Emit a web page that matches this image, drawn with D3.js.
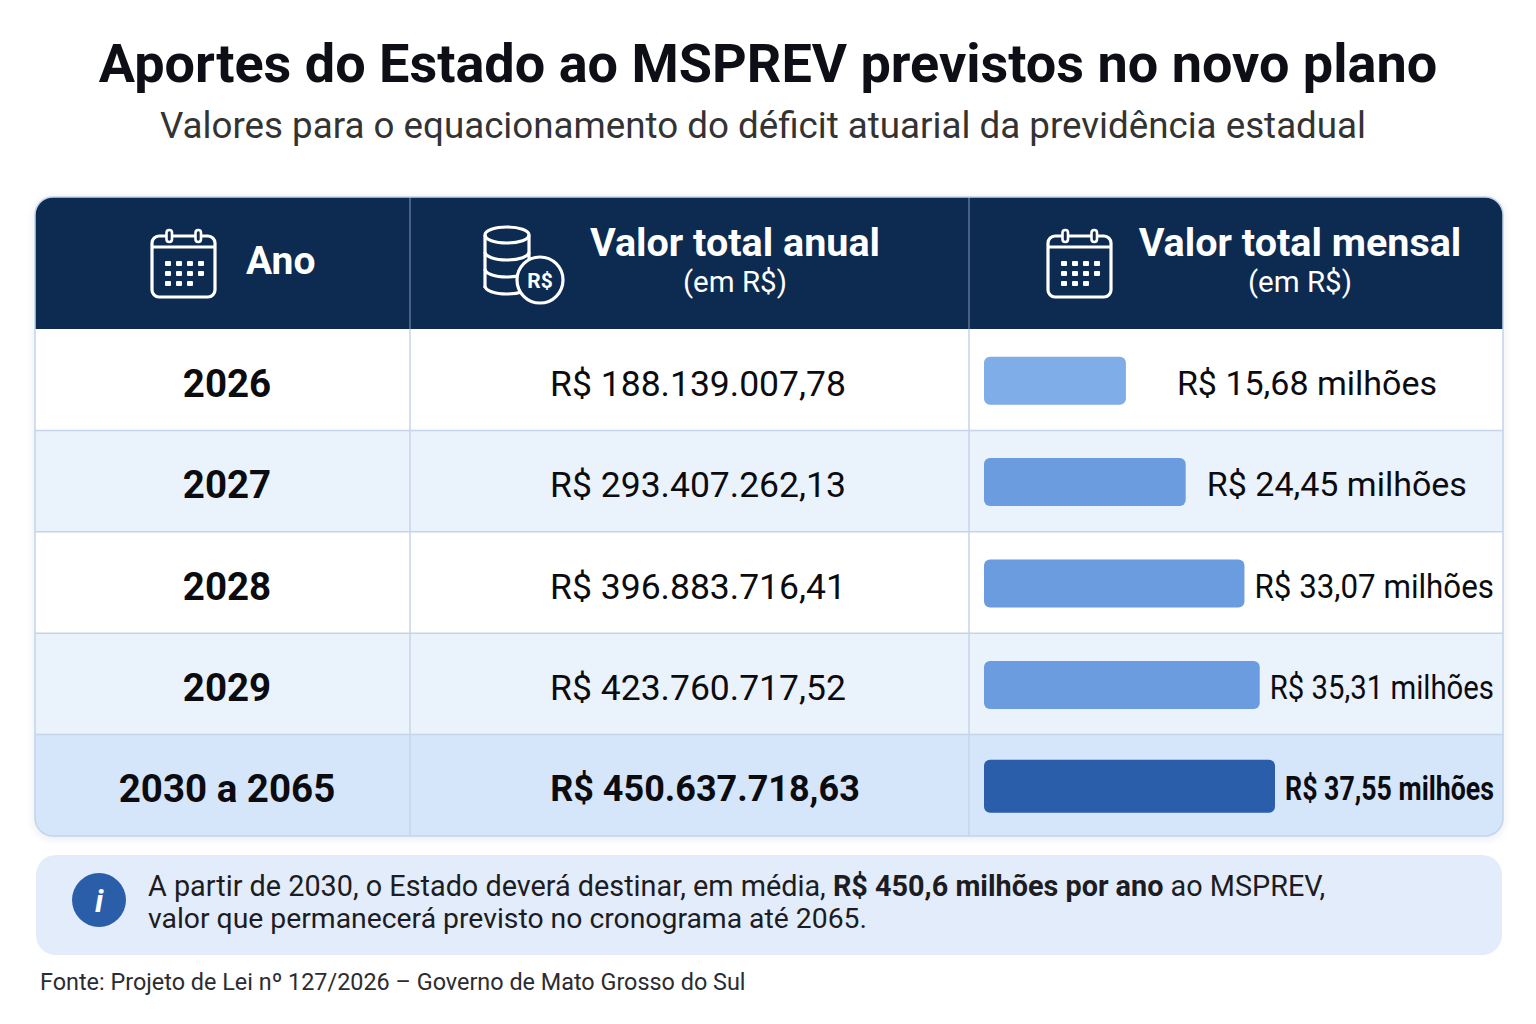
<!DOCTYPE html>
<html><head><meta charset="utf-8">
<script src="https://cdn.jsdelivr.net/npm/d3@7/dist/d3.min.js"></script>
<style>
body{margin:0;background:#fff}
svg{display:block}
text{font-family:Roboto,"Noto Sans",sans-serif}
</style>
</head><body>
<svg id="c" width="1536" height="1024"></svg>
<script>
// ---------- DATA ----------
const titulo = "Aportes do Estado ao MSPREV previstos no novo plano";
const subtitulo = "Valores para o equacionamento do déficit atuarial da previdência estadual";
const anos = ["2026", "2027", "2028", "2029", "2030 a 2065"];
const valorAnual = [188139007.78, 293407262.13, 396883716.41, 423760717.52, 450637718.63];
const valorMensalMilhoes = [15.68, 24.45, 33.07, 35.31, 37.55];
const cabecalhos = ["Ano", "Valor total anual", "Valor total mensal"];
const subCabecalho = "(em R$)";
const notaLinha1 = [["A partir de 2030, o Estado deverá destinar, em média, ", false], ["R$ 450,6 milhões por ano", true], [" ao MSPREV,", false]];
const notaLinha2 = "valor que permanecerá previsto no cronograma até 2065.";
const fonte = "Fonte: Projeto de Lei nº 127/2026 – Governo de Mato Grosso do Sul";

// ---------- LAYOUT / STYLE ----------
const NAVY = "#0d2a50";
const svg = d3.select("#c");
const loc = d3.formatLocale({decimal: ",", thousands: ".", grouping: [3], currency: ["R$ ", ""]});
const fmtAnual = loc.format("$,.2f");
const fmtMensal = v => loc.format("$,.2f")(v) + " milhões";

function fit(sel, target) {
  const n = sel.node();
  const w = n.getComputedTextLength();
  if (Math.abs(w - target) > 2) sel.attr("textLength", target).attr("lengthAdjust", "spacingAndGlyphs");
}

const defs = svg.append("defs");
const sh = defs.append("filter").attr("id", "sh").attr("x", "-5%").attr("y", "-5%").attr("width", "110%").attr("height", "115%");
sh.append("feDropShadow").attr("dx", 0).attr("dy", 2).attr("stdDeviation", 4).attr("flood-color", "#2a4a7a").attr("flood-opacity", 0.12);

// Title
const t = svg.append("text").attr("x", 768).attr("y", 82).attr("text-anchor", "middle")
  .attr("font-size", 54).attr("font-weight", 700).attr("fill", "#0e0f16").text(titulo);
fit(t, 1337);
const st = svg.append("text").attr("x", 763).attr("y", 138).attr("text-anchor", "middle")
  .attr("font-size", 36).attr("fill", "#333").text(subtitulo);
fit(st, 1206);

// Table
const T = {x0: 35, x1: 1503, top: 197, headB: 329, bottom: 836, r: 18};
const colX = [35, 410, 969, 1503];
const y = d3.scaleBand().domain(anos).range([T.headB, T.bottom]);
const barX0 = 984;
const xBar = d3.scaleLinear().domain([0, d3.max(valorMensalMilhoes)]).range([35, 291]);
const rows = anos.map((a, i) => ({ano: a, anual: valorAnual[i], mensal: valorMensalMilhoes[i], i}));

defs.append("clipPath").attr("id", "tc").append("rect")
  .attr("x", T.x0).attr("y", T.top).attr("width", T.x1 - T.x0).attr("height", T.bottom - T.top).attr("rx", T.r);

svg.append("rect").attr("x", T.x0).attr("y", T.top).attr("width", T.x1 - T.x0).attr("height", T.bottom - T.top)
  .attr("rx", T.r).attr("fill", "#fff").attr("filter", "url(#sh)");

const g = svg.append("g").attr("clip-path", "url(#tc)");
g.append("rect").attr("x", T.x0).attr("y", T.top).attr("width", T.x1 - T.x0).attr("height", T.headB - T.top).attr("fill", NAVY);

const rowFill = d => d.i === rows.length - 1 ? "#d5e5fa" : (d.i % 2 ? "#eaf2fc" : "#ffffff");
g.selectAll(".rowbg").data(rows).join("rect")
  .attr("x", T.x0).attr("y", d => y(d.ano)).attr("width", T.x1 - T.x0).attr("height", y.bandwidth())
  .attr("fill", rowFill);

g.selectAll(".hl").data(rows.slice(1)).join("line")
  .attr("x1", T.x0).attr("x2", T.x1).attr("y1", d => y(d.ano)).attr("y2", d => y(d.ano))
  .attr("stroke", "#c6d4e8").attr("stroke-width", 1.5);
[colX[1], colX[2]].forEach(x => {
  g.append("line").attr("x1", x).attr("x2", x).attr("y1", T.top).attr("y2", T.headB).attr("stroke", "#6f86a6").attr("stroke-width", 1.2);
  g.append("line").attr("x1", x).attr("x2", x).attr("y1", T.headB).attr("y2", T.bottom).attr("stroke", "#c6d4e8").attr("stroke-width", 1.5);
});
svg.append("rect").attr("x", T.x0).attr("y", T.top).attr("width", T.x1 - T.x0).attr("height", T.bottom - T.top)
  .attr("rx", T.r).attr("fill", "none").attr("stroke", "#c3d3ea").attr("stroke-width", 1.5);

// Icons
function calendar(x, yy) {
  const c = svg.append("g").attr("transform", `translate(${x},${yy})`).attr("stroke", "#fff").attr("fill", "none");
  c.append("rect").attr("x", 0).attr("y", 6).attr("width", 63).attr("height", 61).attr("rx", 7).attr("stroke-width", 3.2);
  c.append("line").attr("x1", 0).attr("x2", 63).attr("y1", 17).attr("y2", 17).attr("stroke-width", 3);
  [17, 46].forEach(rx => c.append("rect").attr("x", rx - 2.5).attr("y", 0).attr("width", 5.5).attr("height", 12).attr("rx", 2.7)
    .attr("fill", NAVY).attr("stroke-width", 2.6));
  const dots = [[0,0],[1,0],[2,0],[3,0],[0,1],[1,1],[2,1],[3,1],[0,2],[1,2],[2,2]];
  dots.forEach(([i, j]) => c.append("rect").attr("x", 13 + i * 11).attr("y", 31 + j * 10).attr("width", 6).attr("height", 5)
    .attr("rx", 1).attr("fill", "#fff").attr("stroke", "none"));
}
calendar(152, 230);
calendar(1048, 230);

(function coins() {
  const c = svg.append("g").attr("stroke", "#fff").attr("fill", "none").attr("stroke-width", 3.2);
  const cx = 507, rx = 22, ry = 8;
  c.append("ellipse").attr("cx", cx).attr("cy", 235).attr("rx", rx).attr("ry", ry);
  c.append("line").attr("x1", cx - rx).attr("x2", cx - rx).attr("y1", 235).attr("y2", 288);
  c.append("line").attr("x1", cx + rx).attr("x2", cx + rx).attr("y1", 235).attr("y2", 260);
  [254, 271, 288].forEach(yy => c.append("path").attr("d", `M${cx - rx},${yy - 2} A${rx},${ry} 0 0 0 ${cx + rx},${yy - 2}`));
  c.append("circle").attr("cx", 540).attr("cy", 280).attr("r", 23).attr("fill", NAVY);
  svg.append("text").attr("x", 540).attr("y", 288).attr("text-anchor", "middle").attr("font-size", 21).attr("font-weight", 700)
    .attr("fill", "#fff").text("R$");
})();

// Header texts
svg.append("text").attr("x", 246).attr("y", 274).attr("font-size", 39).attr("font-weight", 700).attr("fill", "#fff").text(cabecalhos[0]);
[[735, cabecalhos[1]], [1300, cabecalhos[2]]].forEach(([cx, s]) => {
  svg.append("text").attr("x", cx).attr("y", 256).attr("text-anchor", "middle").attr("font-size", 39.5).attr("font-weight", 700).attr("fill", "#fff").text(s);
  svg.append("text").attr("x", cx).attr("y", 292).attr("text-anchor", "middle").attr("font-size", 29.5).attr("fill", "#fff").text(subCabecalho);
});

// Row texts
const mid = d => y(d.ano) + y.bandwidth() / 2;
const last = d => d.i === rows.length - 1;
svg.selectAll(".ano").data(rows).join("text")
  .attr("x", 227).attr("y", d => mid(d) + 17).attr("text-anchor", "middle")
  .attr("font-size", 38.5).attr("font-weight", 700).attr("fill", "#0c0c10").text(d => d.ano);
svg.selectAll(".anual").data(rows).join("text")
  .attr("x", d => last(d) ? 705 : 698).attr("y", d => mid(d) + 16).attr("text-anchor", "middle")
  .attr("font-size", d => last(d) ? 36 : 35.5).attr("font-weight", d => last(d) ? 700 : 400).attr("fill", "#0c0c10")
  .text(d => fmtAnual(d.anual));

// Bars
const barH = d => last(d) ? 53 : 48;
svg.selectAll(".bar").data(rows).join("rect")
  .attr("x", barX0).attr("y", d => mid(d) - barH(d) / 2 + 1)
  .attr("width", d => xBar(d.mensal)).attr("height", barH).attr("rx", 6)
  .attr("fill", d => last(d) ? "#2a5daa" : (d.i === 0 ? "#7eade8" : "#6a9cdf"));

// Value labels: centred in the free space right of the bar, condensed horizontally when needed
svg.selectAll(".lbl").data(rows).join("text")
  .attr("x", 0).attr("y", 0)
  .attr("font-size", 34).attr("font-weight", d => last(d) ? 700 : 400).attr("fill", "#0c0c10")
  .attr("text-anchor", "middle")
  .text(d => fmtMensal(d.mensal))
  .each(function(d) {
    const start = barX0 + xBar(d.mensal) + 10, end = 1494;
    const avail = end - start;
    const w = this.getComputedTextLength();
    const k = Math.min(1, avail / w);
    const cx = k < 1 ? start + avail / 2 : (start + end) / 2 - 8;
    d3.select(this).attr("transform", `translate(${cx},${mid(d) + 15}) scale(${k},1)`);
  });

// Info box
svg.append("rect").attr("x", 36).attr("y", 855).attr("width", 1466).attr("height", 100).attr("rx", 20).attr("fill", "#e3ecfa");
svg.append("circle").attr("cx", 99).attr("cy", 900).attr("r", 27).attr("fill", "#2b5ea9");
svg.append("text").attr("x", 99).attr("y", 912).attr("text-anchor", "middle").attr("font-family", "DejaVu Serif")
  .attr("font-style", "italic").attr("font-weight", 700).attr("font-size", 32).attr("fill", "#fff").text("i");
const l1 = svg.append("text").attr("x", 148).attr("y", 896).attr("font-size", 28.8).attr("fill", "#1c1c22");
l1.selectAll("tspan").data(notaLinha1).join("tspan").attr("font-weight", d => d[1] ? 700 : 400).text(d => d[0]);
const l2 = svg.append("text").attr("x", 148).attr("y", 928).attr("font-size", 28.5).attr("fill", "#1c1c22").text(notaLinha2);
fit(l2, 719);

// Source
const fo = svg.append("text").attr("x", 40).attr("y", 990).attr("font-size", 23.4).attr("fill", "#2c2c30").text(fonte);
fit(fo, 706);
</script>
</body></html>
